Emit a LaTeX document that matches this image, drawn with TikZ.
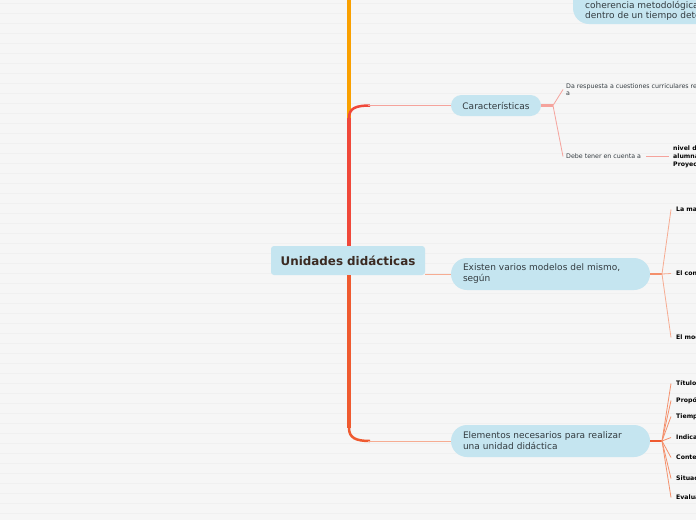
\documentclass[tikz,border=0pt]{standalone}
\usepackage{fontspec}
\setmainfont{DejaVu Sans}
\usetikzlibrary{positioning}
\definecolor{bgGray}{HTML}{F6F6F6}
\definecolor{bgLine}{HTML}{F0F0F0}
\definecolor{topicBlue}{HTML}{C5E5F0}
\definecolor{rootText}{HTML}{3B2A22}
\definecolor{topicText}{HTML}{333B40}
\definecolor{trunkOrange}{HTML}{F9A000}
\definecolor{trunkRed}{HTML}{F0483A}
\definecolor{trunkRedOrange}{HTML}{EF5A30}
\definecolor{linkPink}{HTML}{F5A39C}
\definecolor{linkSalmon}{HTML}{F6AC92}
\definecolor{linkOrange}{HTML}{F4906C}

\tikzset{
  topic/.style={fill=topicBlue, rounded corners=16pt, minimum width=199pt, minimum height=32pt,
    text width=175pt, inner xsep=12pt, inner ysep=0pt, align=left,
    font=\fontsize{9}{11}\selectfont, text=topicText},
  leaf/.style={anchor=west, inner sep=0pt, align=left, font=\fontsize{6.3}{7.5}\selectfont, text=topicText},
  leafbold/.style={leaf, font=\fontsize{6.2}{8}\selectfont\bfseries, text=black},
}

\begin{document}
\begin{tikzpicture}[x=1pt, y=-1pt]
  \useasboundingbox (0,0) rectangle (696,520);
  \clip (0,0) rectangle (696,520);
  \fill[bgGray] (0,0) rectangle (696,520);
  \foreach \y in {3,13,...,513}
    \draw[bgLine, line width=0.6pt] (0,\y) -- (696,\y);

  % nodes
  \fill[topicBlue, rounded corners=16pt] (573,-30) rectangle (760,24);
  \node[anchor=west, inner sep=0pt, align=left, font=\fontsize{9}{10.5}\selectfont, text=topicText]
    (topnode) at (585,11) {coherencia metodológica y\\dentro de un tiempo determinado};

  \node[fill=topicBlue, rounded corners=3pt, minimum width=154pt, minimum height=29pt,
    font=\fontsize{11.9}{14}\selectfont\bfseries, text=rootText] (root) at (348,260.5) {Unidades didácticas};

  \node[fill=topicBlue, rounded corners=10.5pt, minimum width=90pt, minimum height=21pt, inner sep=0pt,
    font=\fontsize{9}{11}\selectfont, text=topicText] (carac) at (496,105.5) {Características};
  \node[topic] (existen) at (550.5,274) {Existen varios modelos del mismo,\\según};
  \node[topic] (elem) at (550.5,441) {Elementos necesarios para realizar\\una unidad didáctica};

  \node[leaf] (respuesta) at (566,89.5) {Da respuesta a cuestiones curriculares relativas\\a};
  \node[leaf] (debe) at (566,156.5) {Debe tener en cuenta a};
  \node[leafbold] (nivel) at (673,156.5) {nivel de desarrollo del\\alumnado, entorno y el\\Proyecto Educativo};

  \node[leafbold] (manera) at (676,209.5) {La manera de entender el currículo};
  \node[leafbold] (concepto) at (676,273.5) {El concepto de aprendizaje};
  \node[leafbold] (modelo) at (676,337.5) {El modelo didáctico};

  \node[leafbold] (titulo) at (676,383.5) {Título};
  \node[leafbold] (proposito) at (676,400.5) {Propósitos};
  \node[leafbold] (tiempo) at (676,416.5) {Tiempo};
  \node[leafbold] (indica) at (676,437.5) {Indicadores};
  \node[leafbold] (conte) at (676,457.5) {Contenidos};
  \node[leafbold] (situa) at (676,478.5) {Situaciones};
  \node[leafbold] (evalu) at (676,497.5) {Evaluación};

  % trunk
  \coordinate (upend) at (349,-5);
  \draw[trunkOrange, line width=4pt] (root.north -| upend) -- (upend);
  \draw[trunkRed, line width=4pt] (root.north -| upend) -- (349,118);
  \draw[trunkRed, line width=2.5pt] (349,118) .. controls (349,108) and (356,105.5) .. (370,105.5);
  \draw[linkPink, line width=1pt] (368,105.5) -- (carac.west);
  \draw[trunkRedOrange, line width=4pt] (root.south -| upend) -- (349,428);
  \draw[trunkRedOrange, line width=2.5pt] (349,428) .. controls (349,438) and (356,441) .. (370,441);
  \draw[linkSalmon, line width=1pt] (368,441) -- (elem.west);
  \draw[linkSalmon, line width=1pt] (root.south east |- existen.west) -- (existen.west);

  % Caracteristicas
  \coordinate (hubC) at (553,105.5);
  \draw[linkPink, line width=2.5pt] (carac.east) -- (hubC);
  \foreach \n in {respuesta, debe}
    \draw[linkPink, line width=0.8pt] (hubC) -- ([xshift=-3pt]\n.west);
  \draw[linkPink, line width=0.8pt] ([xshift=5pt]debe.east) -- ([xshift=-4pt]nivel.west);

  % Existen
  \coordinate (hubE) at (662,274);
  \draw[linkOrange, line width=2.5pt] (existen.east) -- (hubE);
  \foreach \n in {manera, concepto, modelo}
    \draw[linkSalmon, line width=0.8pt] (hubE) -- ([xshift=-5pt]\n.west);

  % Elementos
  \coordinate (hubL) at (662,441);
  \draw[trunkRedOrange, line width=2pt] (elem.east) -- (hubL);
  \foreach \n in {titulo, proposito, tiempo, indica, conte, situa, evalu}
    \draw[linkOrange, line width=0.8pt] (hubL) -- ([xshift=-5pt]\n.west);
\end{tikzpicture}
\end{document}
